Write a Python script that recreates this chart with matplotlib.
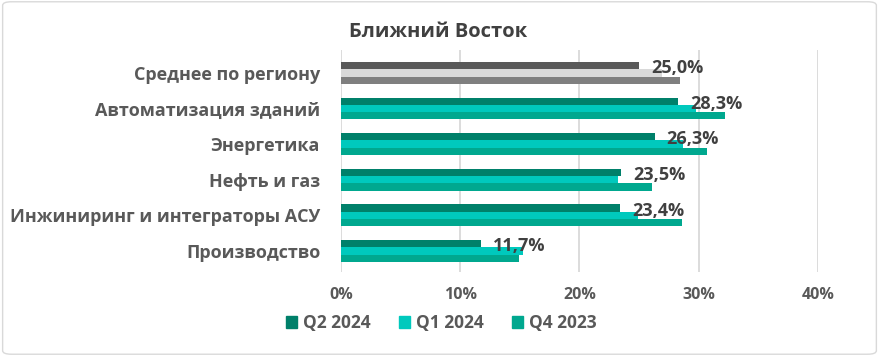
import matplotlib
matplotlib.use('Agg')
import matplotlib.pyplot as plt
from matplotlib.patches import FancyBboxPatch, Patch
import numpy as np

plt.rcParams['font.family'] = ['Open Sans', 'DejaVu Sans']

categories = ['Среднее по региону', 'Автоматизация зданий', 'Энергетика',
              'Нефть и газ', 'Инжиниринг и интеграторы АСУ', 'Производство']
q2_2024 = [25.0, 28.3, 26.3, 23.5, 23.4, 11.7]
q1_2024 = [26.9, 29.8, 28.7, 23.2, 24.9, 15.3]
q4_2023 = [28.4, 32.2, 30.7, 26.1, 28.6, 14.9]
series_names = ['Q2 2024', 'Q1 2024', 'Q4 2023']
xticks = [0, 10, 20, 30, 40]

teal = ['#00806A', '#00C9BD', '#00A88F']
grays = ['#595959', '#D9D9D9', '#7F7F7F']
dark = '#404040'
mid = '#595959'

fig = plt.figure(figsize=(8.79, 3.56), dpi=100)
border = FancyBboxPatch((0.003, 0.005), 0.994, 0.99, boxstyle='round,pad=0,rounding_size=0.01',
                        transform=fig.transFigure, facecolor='none', edgecolor='#D9D9D9', lw=1, zorder=5)
fig.patches.append(border)
ax = fig.add_axes([0.388, 0.236, 0.5425, 0.624])

y = np.arange(len(categories))
h = 0.205
for i, vals in enumerate([q2_2024, q1_2024, q4_2023]):
    cols = [grays[i]] + [teal[i]] * (len(categories) - 1)
    ax.barh(y + (i - 1) * h, vals, height=h, color=cols, zorder=2)

for yi, v in zip(y, q2_2024):
    ax.text(v + 1.0, yi - h * 0.65, f'{v:.1f}%'.replace('.', ','), ha='left', va='center',
            fontsize=13, fontweight='bold', color=dark, zorder=3)

ax.set_xlim(0, 40)
ax.set_ylim(5.59, -0.646)
ax.set_xticks(xticks)
ax.set_xticklabels([f'{t}%' for t in xticks], fontsize=11.5, fontweight='bold', color=mid)
ax.set_yticks(y)
ax.set_yticklabels(categories, fontsize=13, fontweight='bold', color=mid)
ax.tick_params(axis='y', length=0, pad=15)
ax.tick_params(axis='x', length=0, pad=11)
ax.grid(axis='x', color='#D9D9D9', lw=1.3, zorder=0)
for s in ax.spines.values():
    s.set_visible(False)

fig.text(0.498, 0.91, 'Ближний Восток', ha='center', va='center', fontsize=14.5,
         fontweight='bold', color=dark)

handles = [Patch(color=c) for c in teal]
fig.legend(handles, series_names, loc='center', bbox_to_anchor=(0.502, 0.092), ncol=3,
           frameon=False, handlelength=0.65, handleheight=0.65,
           columnspacing=1.6, handletextpad=0.35, prop={'weight': 'bold', 'size': 12.5})
for t in fig.legends[0].get_texts():
    t.set_color(mid)

fig.savefig('out.png', dpi=100)
plt.close(fig)
